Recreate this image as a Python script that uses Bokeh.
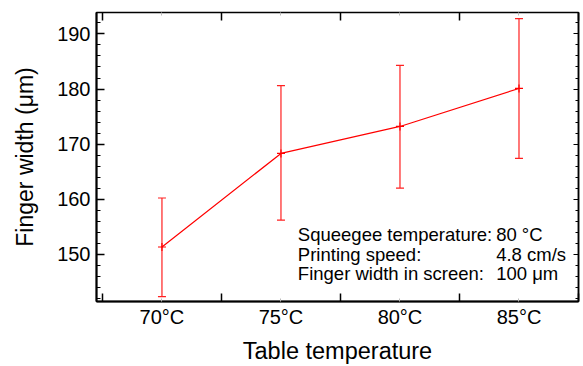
from bokeh.plotting import figure
from bokeh.models import (Range1d, FixedTicker, SingleIntervalTicker, LinearAxis, Whisker,
                          ColumnDataSource, CustomLabelingPolicy)
from bokeh.core.properties import value
from bokeh.embed import file_html
from bokeh.resources import INLINE

categories = ["70°C", "75°C", "80°C", "85°C"]
finger_width = [151.3, 168.3, 173.2, 180.1]
err_upper = [160.2, 180.6, 184.3, 192.8]
err_lower = [142.3, 156.2, 162.0, 167.4]
info_labels = ["Squeegee temperature:", "Printing speed:", "Finger width in screen:"]
info_values = ["80 °C", "4.8 cm/s", "100 μm"]

FONT = "Liberation Sans"
xs = list(range(len(categories)))

p = figure(width=583, height=366, x_range=Range1d(-0.55, 3.5), y_range=Range1d(141.4, 193.9),
           output_backend="svg", toolbar_location=None,
           min_border_left=96, min_border_top=12, min_border_right=1, min_border_bottom=64)
p.grid.visible = False
p.outline_line_color = "black"
p.outline_line_width = 1.5
p.background_fill_color = "white"
p.border_fill_color = "white"

xticker = FixedTicker(ticks=xs, minor_ticks=[-0.5, 0.5, 1.5, 2.5, 3.5])
yticker = SingleIntervalTicker(interval=10, num_minor_ticks=5)

xa = p.xaxis[0]
xa.ticker = xticker
xa.major_label_overrides = {i: c for i, c in enumerate(categories)}
xa.major_tick_in = 3
xa.major_tick_out = 0
xa.major_tick_line_color = "#bbbbbb"
xa.minor_tick_in = 8
xa.minor_tick_out = 0
xa.minor_tick_line_width = 1.5
xa.axis_line_width = 2
xa.major_label_text_font = FONT
xa.major_label_text_font_size = "20px"
xa.major_label_text_color = "black"
xa.major_label_standoff = 4
xa.axis_label = "Table temperature"
xa.axis_label_text_font = FONT
xa.axis_label_text_font_size = "23.5px"
xa.axis_label_text_font_style = "normal"
xa.axis_label_text_color = "black"
xa.axis_label_standoff = 7

ya = p.yaxis[0]
ya.ticker = yticker
ya.major_tick_in = 8
ya.major_tick_out = 0
ya.minor_tick_in = 4
ya.minor_tick_out = 0
ya.major_tick_line_width = 1.5
ya.axis_line_width = 2
ya.major_label_text_font = FONT
ya.major_label_text_font_size = "20px"
ya.major_label_text_color = "black"
ya.major_label_standoff = 6
ya.axis_label = "Finger width (μm)"
ya.axis_label_text_font = FONT
ya.axis_label_text_font_size = "23px"
ya.axis_label_text_font_style = "normal"
ya.axis_label_text_color = "black"
ya.axis_label_standoff = 16

no_labels = CustomLabelingPolicy(code="return new Set()")
top = LinearAxis(ticker=xticker, major_label_policy=no_labels, major_label_text_font_size="1px",
                 major_label_standoff=0,
                 major_tick_in=3, major_tick_out=0, major_tick_line_color="#bbbbbb",
                 minor_tick_in=8, minor_tick_out=0, minor_tick_line_width=1.5, axis_line_width=1)
p.add_layout(top, "above")
no_labels_r = CustomLabelingPolicy(code="return new Set()")
right = LinearAxis(ticker=yticker, major_label_policy=no_labels_r, major_label_text_font_size="1px",
                   major_label_standoff=0,
                   major_tick_in=5, major_tick_out=0, minor_tick_in=3, minor_tick_out=0,
                   axis_line_width=1.5)
p.add_layout(right, "right")

src = ColumnDataSource(dict(x=xs, y=finger_width, upper=err_upper, lower=err_lower))
w = Whisker(base="x", upper="upper", lower="lower", source=src, line_color="#ff2020", line_width=1.2)
w.upper_head.size = 8
w.lower_head.size = 8
w.upper_head.line_color = "#ff2020"
w.lower_head.line_color = "#ff2020"
w.upper_head.line_width = 1.2
w.lower_head.line_width = 1.2
p.add_layout(w)
p.line("x", "y", source=src, line_color="red", line_width=1.2)
p.scatter("x", "y", source=src, marker="cross", size=8, line_color="red", line_width=1.2)

ys_info = [153.5 - 3.5 * i for i in range(len(info_labels))]
p.text(x=[1.142] * len(info_labels), y=ys_info, text=info_labels, text_font=value(FONT),
       text_font_size="18.5px", text_color="black", text_baseline="alphabetic", text_align="left")
p.text(x=[2.808] * len(info_values), y=ys_info, text=info_values, text_font=value(FONT),
       text_font_size="18.5px", text_color="black", text_baseline="alphabetic", text_align="left")

open("out.html", "w").write(file_html(p, INLINE))
